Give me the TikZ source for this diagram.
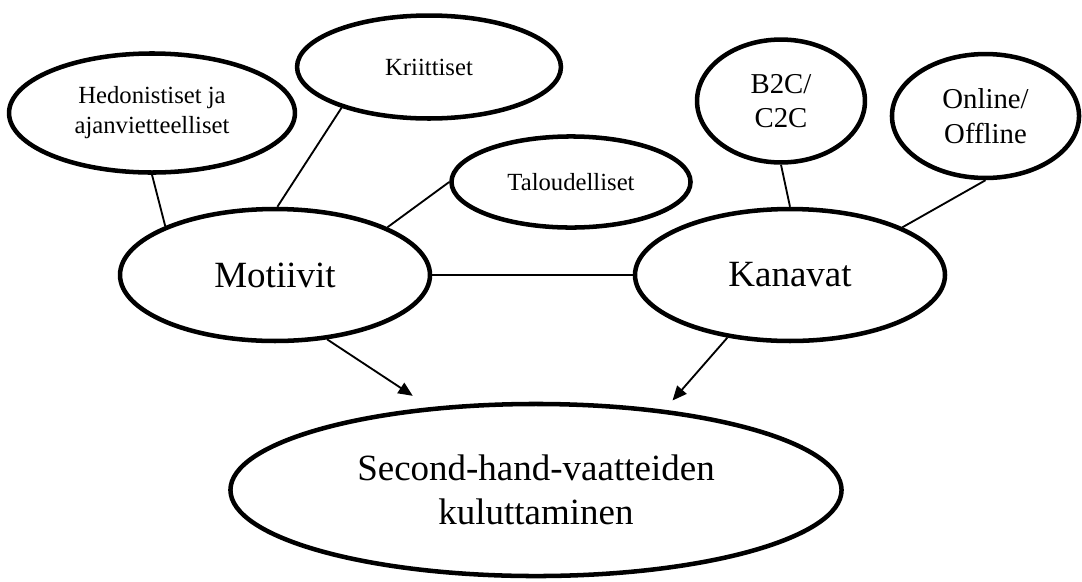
\documentclass[tikz,border=0pt]{standalone}
\usepackage{fontspec}
\setmainfont{Liberation Serif}
\usetikzlibrary{shapes.geometric, arrows.meta}
\begin{document}
\begin{tikzpicture}[x=0.4865pt, y=-0.4865pt,
  bubble/.style={ellipse, draw=black, line width=2.2pt, inner sep=1pt, align=center},
  small/.style={font=\fontsize{12}{14.6}\selectfont},
  medium/.style={font=\fontsize{14}{16.8}\selectfont},
  large/.style={font=\fontsize{18}{21.4}\selectfont},
  link/.style={line width=0.9pt}]
\useasboundingbox (0,0) rectangle (1082,581);
\node [bubble, small, minimum width=139.1pt, minimum height=57.9pt] (hed) at (152,113) {Hedonistiset ja\\ajanvietteelliset};
\node [bubble, small, minimum width=128.4pt, minimum height=50.1pt] (krit) at (429,67) {Kriittiset};
\node [bubble, small, minimum width=116.3pt, minimum height=44.3pt] (tal) at (571,182) {Taloudelliset};
\node [bubble, large, minimum width=150.8pt, minimum height=64.2pt] (mot) at (275,275) {Motiivit};
\node [bubble, large, minimum width=150.8pt, minimum height=64.2pt] (kan) at (790,275) {Kanavat};
\node [bubble, medium, minimum width=81.7pt, minimum height=59.8pt] (b2c) at (781,101) {B2C/\\C2C};
\node [bubble, medium, minimum width=91pt, minimum height=60.3pt] (onl) at (985.5,116) {Online/\\Offline};
\node [bubble, large, minimum width=297.3pt, minimum height=83.7pt] (kul) at (536,490) {Second-hand-vaatteiden\\kuluttaminen};
\draw [link] (hed.south) -- (mot.156);
\draw [link] (krit.205) -- (mot.88);
\draw [link] (tal.west) -- (mot.23);
\draw [link] (mot.east) -- (kan.west);
\draw [link] (b2c.south) -- (kan.north);
\draw [link] (onl.south) -- (kan.23);
\draw [link, -{Triangle[length=7pt,width=6pt]}, shorten >=10pt] (mot.309) -- (kul.142);
\draw [link, -{Triangle[length=7pt,width=6pt]}, shorten >=6pt] (kan.225) -- (kul.32);
\end{tikzpicture}
\end{document}
